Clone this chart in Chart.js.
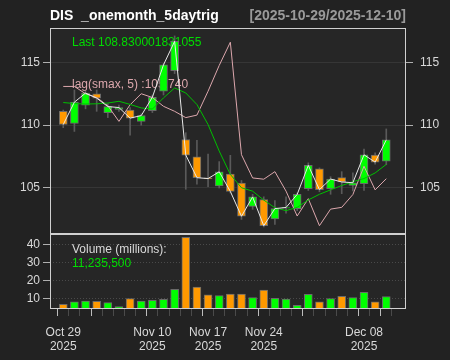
<!DOCTYPE html>
<html>
<head>
<meta charset="utf-8">
<script src="https://cdn.jsdelivr.net/npm/chart.js@4.4.1/dist/chart.umd.min.js"></script>
<style>
  html, body { margin: 0; padding: 0; background: #222222; }
  #wrap { position: relative; width: 450px; height: 360px; }
  #wrap canvas { position: absolute; left: 0; top: 0; }
</style>
</head>
<body>
<div id="wrap">
  <canvas id="volChart" width="450" height="360"></canvas>
  <canvas id="priceChart" width="450" height="360"></canvas>
</div>
<script>
const days = ['2025-10-29', '2025-10-30', '2025-10-31', '2025-11-03', '2025-11-04', '2025-11-05', '2025-11-06', '2025-11-07',
    '2025-11-10', '2025-11-11', '2025-11-12', '2025-11-13', '2025-11-14', '2025-11-17', '2025-11-18', '2025-11-19',
    '2025-11-20', '2025-11-21', '2025-11-24', '2025-11-25', '2025-11-26', '2025-11-28', '2025-12-01', '2025-12-02',
    '2025-12-03', '2025-12-04', '2025-12-05', '2025-12-08', '2025-12-09', '2025-12-10']

const open = [111.1, 110.13, 111.6, 112.5, 111.0, 111.25, 111.2, 110.3, 111.16, 112.7, 114.33, 108.86, 107.48, 105.8, 105.16,
    106.1, 105.4, 103.54, 104.07, 102.54, 103.4, 103.36, 104.94, 106.53, 104.94, 105.82, 105.21, 105.34, 107.62, 107.14]
const high = [111.2, 112.8, 112.7, 112.8, 111.7, 111.6, 111.4, 110.9, 112.4, 114.9, 117.1, 109.4, 108.8, 107.7, 107.1,
    107.6, 105.6, 104.5, 104.3, 104.0, 104.3, 104.6, 107.0, 106.6, 105.9, 106.3, 106.2, 108.1, 107.8, 109.7]
const low = [109.8, 109.5, 111.3, 111.1, 110.6, 111.1, 109.2, 110.0, 111.0, 112.4, 114.1, 104.9, 105.3, 105.1, 105.0,
    104.6, 102.5, 103.3, 101.9, 102.1, 103.0, 103.2, 104.8, 104.7, 104.5, 104.55, 104.76, 104.8, 106.9, 106.85]
const close = [110.05, 111.83, 112.55, 112.15, 111.48, 111.4, 110.56, 110.76, 112.22, 114.8, 116.67, 107.62, 105.82, 105.75,
    106.29, 104.73, 102.75, 104.29, 102.0, 103.36, 103.45, 104.49, 106.8, 104.87, 105.71, 105.48, 105.42, 107.64, 107.06,
    108.830001831055]
const volume = [6.9, 8.2, 8.7, 8.5, 7.8, 5.6, 10.0, 8.7, 9.1, 9.6, 15.2, 44.1, 16.5, 12.1, 11.7, 12.6, 12.6, 10.6, 14.8,
    10.2, 9.8, 6.3, 12.4, 8.3, 10.0, 11.3, 10.6, 13.6, 8.3, 11.2355]
const sma = [111.8, 111.72, 111.68, 111.7, 111.76, 111.9, 111.65, 111.37, 111.28, 112.17, 112.96, 112.56, 111.64, 110.05,
    107.94, 106.08, 105.02, 104.75, 104.04, 103.43, 103.2, 103.46, 104.05, 104.5, 104.85, 105.2, 105.5, 105.75, 106.2, 106.88]
const lagSmax = [113.08, 113.08, 112.5, 112.2, 111.55, 110.3, 111.62, 112.5, 112.2, 111.5, 111.1, 110.6, 110.8, 112.7,
    114.75, 116.6, 107.65, 105.8, 105.7, 106.3, 104.75, 102.77, 104.15, 102.0, 103.32, 103.46, 104.48, 106.73, 104.85, 105.74]

const priceTicks = [105, 110, 115]
const volTicks = [10, 20, 30, 40]
const xLabelIdx = [0, 8, 13, 18, 27]
const xLabels = ['Oct 29', 'Nov 10', 'Nov 17', 'Nov 24', 'Dec 08']
const xMajorIdx = [0, 3, 8, 13, 18, 22, 27, 29]

const upColor = '#00ff00'
const downColor = '#ff9900'
const pink = '#dca7ad'
const labelColor = '#d9d9d9'

Chart.defaults.font.family = '"Liberation Sans", Arial, sans-serif'
Chart.defaults.font.size = 12

const xMin = -1.19
const xMax = 30.77
const n = days.length
const candleColors = close.map((c, i) => c >= open[i] ? upColor : downColor)

const bodies = days.map((d, i) => ({ x: i, y: [open[i], close[i]] }))
const wicks = days.map((d, i) => ({ x: i, y: [low[i], high[i]] }))
const closeLine = days.map((d, i) => ({ x: i, y: close[i] }))
const smaLine = days.map((d, i) => ({ x: i, y: sma[i] }))
const lagLine = days.map((d, i) => ({ x: i, y: lagSmax[i] }))
const volBars = days.map((d, i) => ({ x: i, y: volume[i] }))

// panel fill and white frame round the plot area
const panelFrame = {
    id: 'panelFrame',
    beforeDraw(chart) {
        const { ctx, chartArea: a } = chart
        ctx.save()
        ctx.fillStyle = '#262626'
        ctx.fillRect(a.left, a.top, a.right - a.left, a.bottom - a.top)
        ctx.restore()
    },
    afterDraw(chart) {
        const { ctx, chartArea: a } = chart
        ctx.save()
        ctx.strokeStyle = '#d0d0d0'
        ctx.lineWidth = 1
        ctx.strokeRect(a.left + 0.5, a.top + 0.5, a.right - a.left - 1, a.bottom - a.top - 1)
        ctx.restore()
    }
}

const priceText = {
    id: 'priceText',
    beforeDatasetsDraw(chart) {
        const { ctx } = chart
        ctx.save()
        ctx.font = '12px "Liberation Sans", Arial, sans-serif'
        ctx.textAlign = 'left'
        ctx.textBaseline = 'alphabetic'
        ctx.fillStyle = '#00dd00'
        ctx.fillText('Last ' + close[n - 1], 72, 46)
        ctx.fillStyle = pink
        ctx.fillText('lag(smax, 5) :' + lagSmax[n - 1].toFixed(3), 72, 88)
        ctx.restore()
    },
    afterDraw(chart) {
        const { ctx } = chart
        ctx.save()
        ctx.font = 'bold 14px "Liberation Sans", Arial, sans-serif'
        ctx.textBaseline = 'alphabetic'
        ctx.textAlign = 'left'
        ctx.fillStyle = '#ffffff'
        ctx.fillText('DIS  _onemonth_5daytrig', 50, 20)
        ctx.textAlign = 'right'
        ctx.fillStyle = '#9a9a9a'
        ctx.fillText('[' + days[0] + '/' + days[n - 1] + ']', 406, 20)
        ctx.restore()
    }
}

const volText = {
    id: 'volText',
    beforeDatasetsDraw(chart) {
        const { ctx } = chart
        ctx.save()
        ctx.font = '12px "Liberation Sans", Arial, sans-serif'
        ctx.textAlign = 'left'
        ctx.textBaseline = 'alphabetic'
        ctx.fillStyle = labelColor
        ctx.fillText('Volume (millions):', 72, 252.5)
        ctx.fillStyle = '#00dd00'
        ctx.fillText(Math.round(volume[n - 1] * 1e6).toLocaleString('en-US'), 72, 266.5)
        ctx.restore()
    }
}

new Chart(document.getElementById('priceChart'), {
    type: 'bar',
    data: {
        datasets: [
            { type: 'line', data: closeLine, borderColor: '#e8e8e8', borderWidth: 1, pointRadius: 0, order: 1 },
            { type: 'line', data: smaLine, borderColor: '#00c000', borderWidth: 1, pointRadius: 0, order: 1 },
            { type: 'line', data: lagLine, borderColor: pink, borderWidth: 1, pointRadius: 0, order: 1 },
            {
                data: bodies, backgroundColor: candleColors, borderColor: '#6a6a6a', borderWidth: 1,
                borderSkipped: false, barThickness: 8, grouped: false, order: 2
            },
            { data: wicks, backgroundColor: '#5a5a5a', barThickness: 1, grouped: false, order: 3 }
        ]
    },
    options: {
        responsive: false,
        animation: false,
        events: [],
        layout: { padding: { top: 28, bottom: 126, left: 0, right: 0 } },
        plugins: { legend: { display: false }, tooltip: { enabled: false } },
        scales: {
            x: { type: 'linear', min: xMin, max: xMax, offset: false, display: false },
            y: {
                position: 'left', min: 101.34, max: 117.73,
                afterBuildTicks: (s) => { s.ticks = priceTicks.map(v => ({ value: v })) },
                afterFit: (s) => { s.width = 50 },
                grid: { color: '#363636', tickColor: '#b0b0b0', tickLength: 7 },
                border: { display: false },
                ticks: { color: labelColor, padding: 3 }
            },
            yR: {
                position: 'right', min: 101.34, max: 117.73,
                afterBuildTicks: (s) => { s.ticks = priceTicks.map(v => ({ value: v })) },
                afterFit: (s) => { s.width = 44 },
                grid: { drawOnChartArea: false, tickColor: '#b0b0b0', tickLength: 7 },
                border: { display: false },
                ticks: { color: labelColor, padding: 7 }
            }
        }
    },
    plugins: [panelFrame, priceText]
})

new Chart(document.getElementById('volChart'), {
    type: 'bar',
    data: {
        datasets: [{
            data: volBars, backgroundColor: candleColors, borderColor: '#6a6a6a', borderWidth: 1, barThickness: 8
        }]
    },
    options: {
        responsive: false,
        animation: false,
        events: [],
        layout: { padding: { top: 234, bottom: 0, left: 0, right: 44 } },
        plugins: { legend: { display: false }, tooltip: { enabled: false } },
        scales: {
            x: {
                type: 'linear', min: xMin, max: xMax, offset: false,
                afterBuildTicks: (s) => { s.ticks = days.map((d, i) => ({ value: i })) },
                afterFit: (s) => { s.height = 51 },
                grid: {
                    drawOnChartArea: false, tickLength: 7,
                    tickColor: (c) => xMajorIdx.includes(c.tick && c.tick.value) ? '#bdbdbd' : '#4a4a4a'
                },
                border: { display: false },
                ticks: {
                    autoSkip: false, maxRotation: 0, padding: 10, color: labelColor,
                    font: { lineHeight: 1.15 },
                    callback: (v) => {
                        const k = xLabelIdx.indexOf(v)
                        return k >= 0 ? [xLabels[k], days[v].slice(0, 4)] : ''
                    }
                }
            },
            y: {
                position: 'left', min: 4.28, max: 45.94,
                afterBuildTicks: (s) => { s.ticks = volTicks.map(v => ({ value: v })) },
                afterFit: (s) => { s.width = 50 },
                grid: { color: '#4a4a4a', tickColor: '#b0b0b0', tickLength: 7 },
                border: { display: false, dash: [1, 2] },
                ticks: { color: labelColor, padding: 3 }
            }
        }
    },
    plugins: [panelFrame, volText]
})
</script>
</body>
</html>
